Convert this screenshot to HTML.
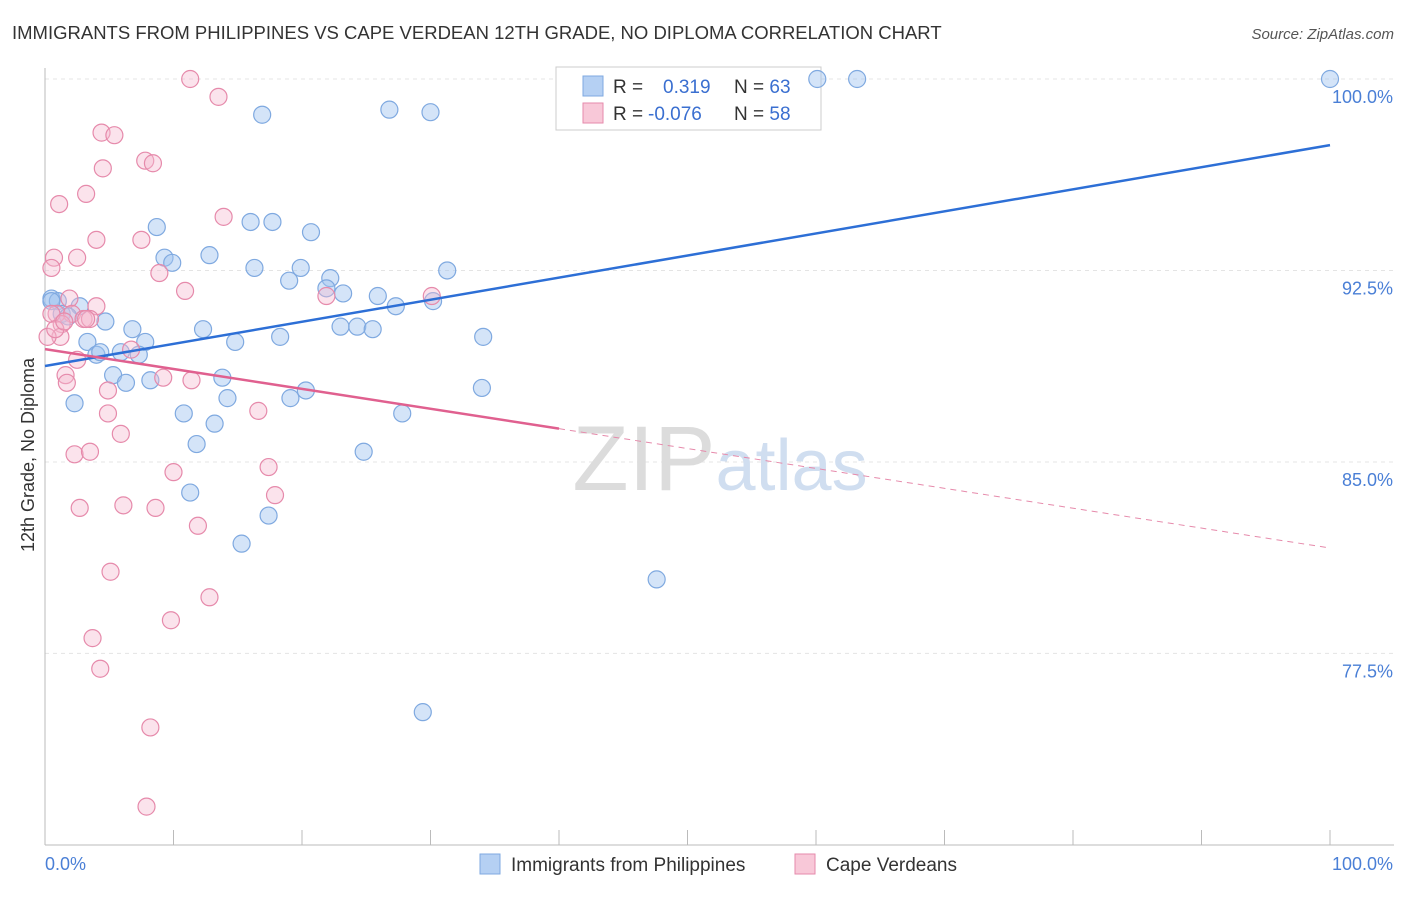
<!DOCTYPE html>
<html><head><meta charset="utf-8">
<style>
body{margin:0;background:#fff;font-family:"Liberation Sans",sans-serif;}
svg text{font-family:"Liberation Sans",sans-serif;}
</style></head>
<body>
<svg id="chart" width="1406" height="892" viewBox="0 0 1406 892" xmlns="http://www.w3.org/2000/svg">
<text x="12" y="39" font-size="18.5" fill="#333">IMMIGRANTS FROM PHILIPPINES VS CAPE VERDEAN 12TH GRADE, NO DIPLOMA CORRELATION CHART</text>
<text x="1394" y="39" font-size="15" fill="#555" font-style="italic" text-anchor="end">Source: ZipAtlas.com</text>
<g id="grid"></g>
<text x="720" y="490" font-size="92" text-anchor="middle" fill="#dcdcdc" font-family="Liberation Serif">ZIP<tspan fill="#d0def0" font-family="Liberation Sans" font-size="72">atlas</tspan></text>
<g id="axes"></g>
<g>
<rect x="556" y="67" width="265" height="63" fill="#fff" stroke="#ccc"/>
<rect x="583" y="76" width="20" height="20" fill="#b5d0f3" stroke="#7fa9e0"/>
<rect x="583" y="103" width="20" height="20" fill="#f8c8d8" stroke="#e68aab"/>
<text x="613" y="93" font-size="19" fill="#333">R =  <tspan fill="#3a6fd0" x="663">0.319</tspan><tspan fill="#333" x="734">N = </tspan><tspan fill="#3a6fd0">63</tspan></text>
<text x="613" y="120" font-size="19" fill="#333">R = <tspan fill="#3a6fd0" x="648">-0.076</tspan><tspan fill="#333" x="734">N = </tspan><tspan fill="#3a6fd0">58</tspan></text>
</g>
<g id="marks"></g>
<text transform="translate(34,455) rotate(-90)" font-size="18" fill="#333" text-anchor="middle">12th Grade, No Diploma</text>
<g>
<rect x="480" y="854" width="20" height="20" fill="#b5d0f3" stroke="#7fa9e0"/>
<text x="511" y="871" font-size="19" fill="#333">Immigrants from Philippines</text>
<rect x="795" y="854" width="20" height="20" fill="#f8c8d8" stroke="#e68aab"/>
<text x="826" y="871" font-size="19" fill="#333">Cape Verdeans</text>
</g>
</svg>
<script>
const blueX=[60.1,63.2,100,16.9,26.8,30.0,8.7,16.0,17.7,20.7,9.3,9.9,12.8,16.3,19.9,22.2,19.0,21.9,23.2,25.9,27.3,30.2,31.3,0.5,1.0,2.7,1.3,1.8,4.7,6.8,12.3,23.0,24.3,25.5,18.3,34.1,3.3,7.8,14.8,4.0,4.3,5.9,7.3,5.3,6.3,8.2,13.8,2.3,14.2,19.1,20.3,34.0,10.8,27.8,13.2,11.8,24.8,11.3,17.4,15.3,47.6,29.4,0.5];
const blueY=[100,100,100,98.6,98.8,98.7,94.2,94.4,94.4,94.0,93.0,92.8,93.1,92.6,92.6,92.2,92.1,91.8,91.6,91.5,91.1,91.3,92.5,91.4,91.3,91.1,90.8,90.7,90.5,90.2,90.2,90.3,90.3,90.2,89.9,89.9,89.7,89.7,89.7,89.2,89.3,89.3,89.2,88.4,88.1,88.2,88.3,87.3,87.5,87.5,87.8,87.9,86.9,86.9,86.5,85.7,85.4,83.8,82.9,81.8,80.4,75.2,91.3];
const pinkX=[11.3,13.5,4.4,5.4,7.8,8.4,4.5,1.1,3.2,13.9,4.0,7.5,0.7,2.5,0.5,8.9,10.9,21.9,30.1,1.9,4.0,0.9,2.1,3.0,3.5,1.3,1.2,0.2,6.7,2.5,1.6,1.7,9.2,11.4,4.9,4.9,16.6,5.9,2.3,3.5,10.0,17.4,17.9,2.7,6.1,8.6,11.9,5.1,12.8,9.8,3.7,4.3,8.2,7.9,3.2,0.5,0.8,1.5];
const pinkY=[100,99.3,97.9,97.8,96.8,96.7,96.5,95.1,95.5,94.6,93.7,93.7,93.0,93.0,92.6,92.4,91.7,91.5,91.5,91.4,91.1,90.8,90.8,90.6,90.6,90.4,89.9,89.9,89.4,89.0,88.4,88.1,88.3,88.2,87.8,86.9,87.0,86.1,85.3,85.4,84.6,84.8,83.7,83.2,83.3,83.2,82.5,80.7,79.7,78.8,78.1,76.9,74.6,71.5,90.6,90.8,90.2,90.5];
const yTicks=[100,92.5,85,77.5];
const yTickLabels=["100.0%","92.5%","85.0%","77.5%"];
const xTicks=[10,20,30,40,50,60,70,80,90,100];
const blueTrend=[88.76,97.41];
const pinkTrend=[89.42,81.63];
const pinkSolidEnd=40;

const NS="http://www.w3.org/2000/svg";
const xs=v=>45+v*12.85;
const ys=v=>79+(100-v)*25.53;
function mk(tag,attrs,parent){const e=document.createElementNS(NS,tag);for(const k in attrs)e.setAttribute(k,attrs[k]);parent.appendChild(e);return e;}
const grid=document.getElementById('grid'),axes=document.getElementById('axes'),marks=document.getElementById('marks');
yTicks.forEach((t,i)=>{
  const l=mk('line',{x1:45,x2:1394,y1:ys(t),y2:ys(t),stroke:'#e4e4e4','stroke-dasharray':'4,4'},grid);
  
  
  const tx=mk('text',{x:1393,y:ys(t)+24,'font-size':18,fill:'#4a7fd6','text-anchor':'end'},axes);
  tx.textContent=yTickLabels[i];
  
  
});
const ax=mk('line',{x1:45,x2:1394,y1:845,y2:845,stroke:'#bbb'},axes);


const ay=mk('line',{x1:45,x2:45,y1:68,y2:845,stroke:'#bbb'},axes);


xTicks.forEach(t=>{
  const l=mk('line',{x1:xs(t),x2:xs(t),y1:830,y2:845,stroke:'#bbb'},axes);
  
  
});
const x0=mk('text',{x:45,y:870,'font-size':18,fill:'#4a7fd6'},axes);x0.textContent='0.0%';


const x1=mk('text',{x:1393,y:870,'font-size':18,fill:'#4a7fd6','text-anchor':'end'},axes);x1.textContent='100.0%';



blueX.forEach((v,i)=>{
  const c=mk('circle',{cx:xs(v),cy:ys(blueY[i]),r:8.5,fill:'rgba(160,196,240,0.45)',stroke:'#7fa9e0','stroke-width':1.2},marks);
  
  
});
pinkX.forEach((v,i)=>{
  const c=mk('circle',{cx:xs(v),cy:ys(pinkY[i]),r:8.5,fill:'rgba(246,186,208,0.4)',stroke:'#e68aab','stroke-width':1.2},marks);
  
  
});
const bl=mk('line',{x1:xs(0),y1:ys(blueTrend[0]),x2:xs(100),y2:ys(blueTrend[1]),stroke:'#2d6fd6','stroke-width':2.5},marks);


const pAt=x=>pinkTrend[0]+(pinkTrend[1]-pinkTrend[0])*x/100;
const pl=mk('line',{x1:xs(0),y1:ys(pinkTrend[0]),x2:xs(pinkSolidEnd),y2:ys(pAt(pinkSolidEnd)),stroke:'#e0608f','stroke-width':2.5},marks);


const pd=mk('line',{x1:xs(pinkSolidEnd),y1:ys(pAt(pinkSolidEnd)),x2:xs(100),y2:ys(pinkTrend[1]),stroke:'#e68aab','stroke-width':1,'stroke-dasharray':'6,5'},marks);


</script>
</body></html>
